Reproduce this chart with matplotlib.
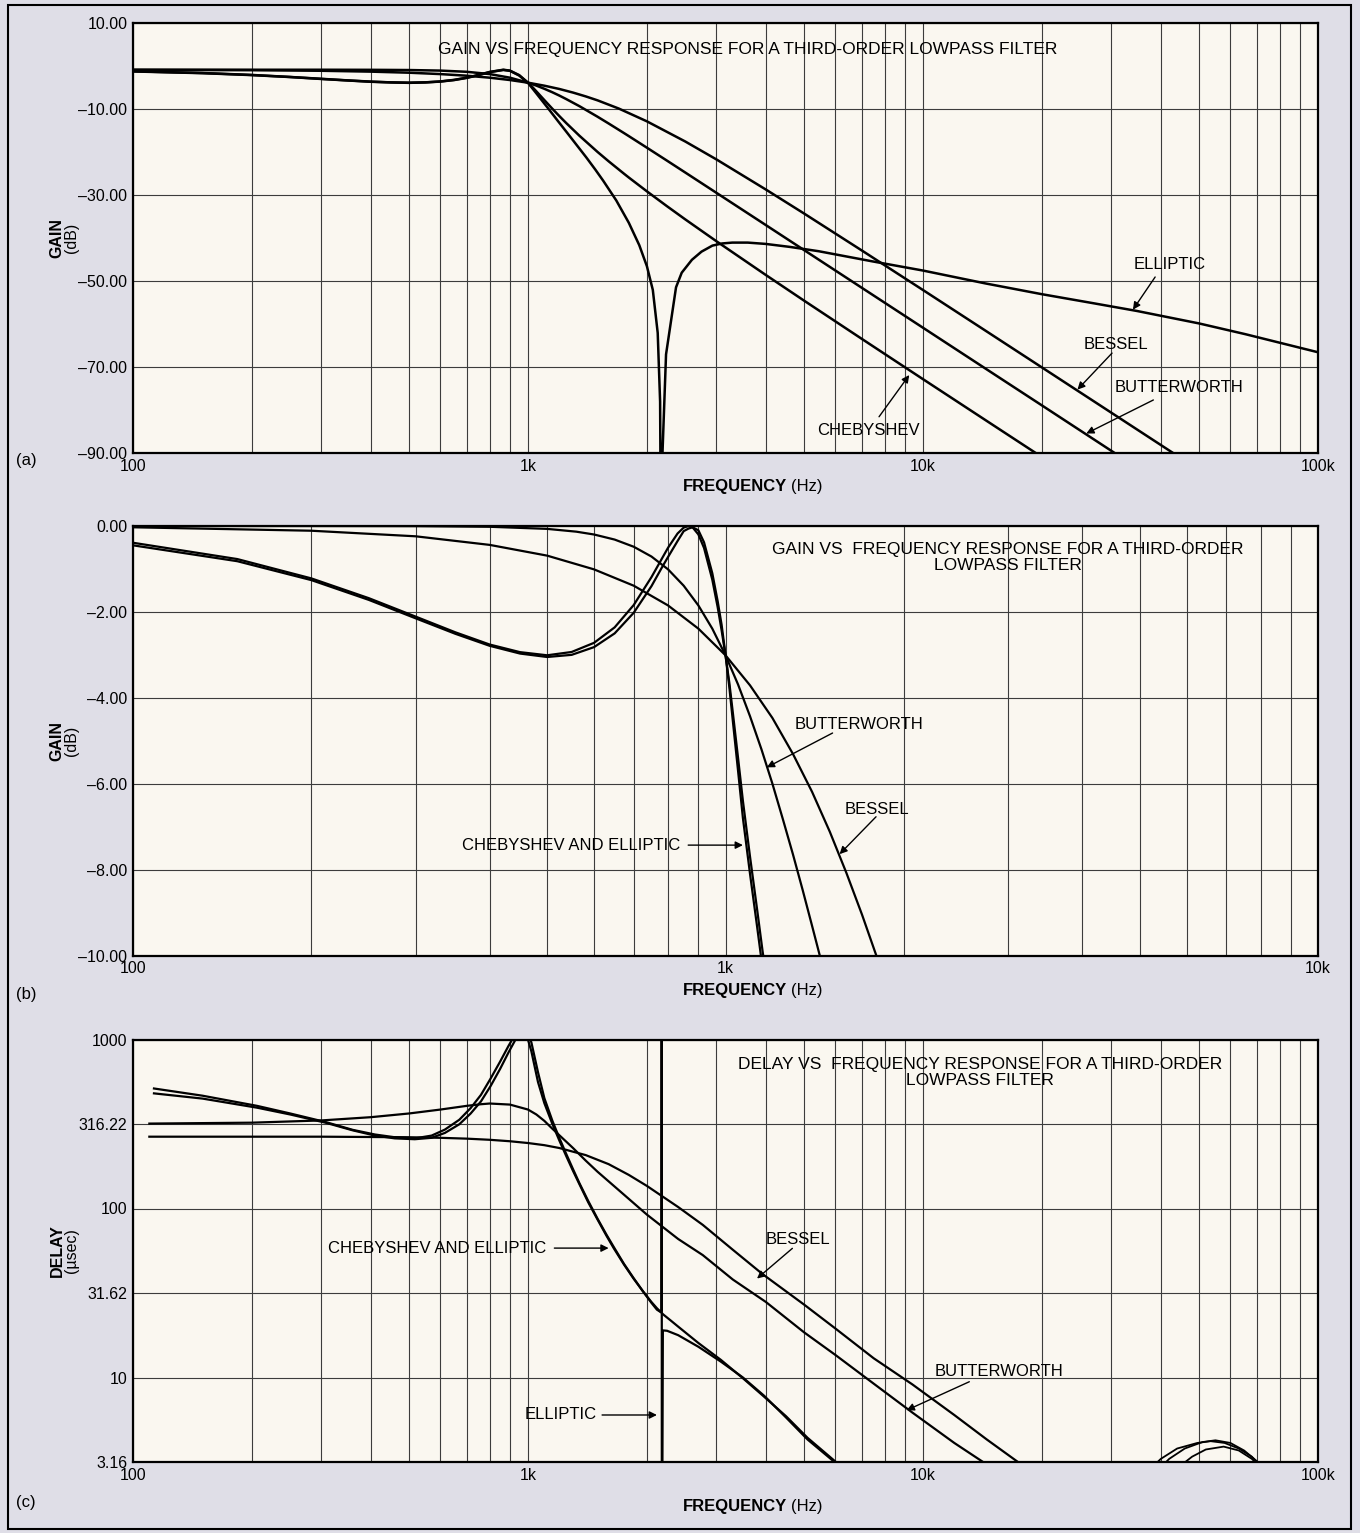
"""Third-order lowpass filter responses: gain (wide/narrow) and group delay."""

import matplotlib

matplotlib.use("Agg")
import matplotlib.pyplot as plt
from matplotlib.patches import Rectangle
from matplotlib.ticker import NullFormatter, NullLocator

W, H = 1360, 1533
PAGE = "#dfdee7"
PAPER = "#faf7f0"
GRID = "#3c3c3c"
INK = "black"

plt.rcParams["font.family"] = ["Liberation Sans", "DejaVu Sans"]

# ---- (a) gain, 100 Hz .. 100 kHz (dB) ----
a_butter_f = [100, 200, 300, 400, 500, 600, 700, 800, 900, 1000, 1050, 1100, 1150, 1200,
              1250, 1350, 1500, 1600, 1750, 1800, 2000, 2250, 2500, 3000, 4000, 5000, 7000,
              10000, 15000, 20000, 31600]
a_butter_db = [-0.8, -0.8, -0.8, -0.82, -0.87, -1.0, -1.28, -1.81, -2.65, -3.81, -4.49,
               -5.23, -6.0, -6.8, -7.63, -9.28, -11.73, -13.3, -15.53, -16.24, -18.93, -21.96,
               -24.69, -29.43, -36.92, -42.74, -51.51, -60.8, -71.37, -78.86, -90.8]
a_bessel_f = [100, 200, 300, 400, 500, 600, 700, 800, 900, 1000, 1100, 1200, 1300, 1400,
              1500, 1700, 2000, 2500, 3000, 4000, 5000, 7000, 10000, 14000, 20000, 30000,
              43000]
a_bessel_db = [-0.83, -0.91, -1.04, -1.24, -1.49, -1.81, -2.19, -2.65, -3.19, -3.81, -4.51,
               -5.27, -6.11, -7.0, -7.92, -9.85, -12.8, -17.48, -21.66, -28.65, -34.24,
               -42.83, -52.03, -60.76, -70.03, -80.58, -89.95]
a_cheby_f = [100, 150, 200, 250, 300, 350, 400, 450, 500, 550, 600, 650, 700, 750, 800, 866,
             900, 950, 1000, 1025, 1050, 1100, 1150, 1200, 1250, 1350, 1500, 1600, 1750, 1800,
             2000, 2250, 2500, 3000, 4000, 5000, 7000, 10000, 15000, 20000]
a_cheby_db = [-1.16, -1.56, -2.01, -2.48, -2.91, -3.28, -3.56, -3.74, -3.81, -3.73, -3.52,
              -3.16, -2.64, -1.99, -1.31, -0.8, -1.0, -2.05, -3.81, -4.8, -5.83, -7.86, -9.78,
              -11.56, -13.21, -16.16, -19.92, -22.09, -24.98, -25.87, -29.08, -32.56, -35.59,
              -40.69, -48.53, -54.5, -63.39, -72.76, -83.36, -90.87]
a_ellip_f = [100, 150, 200, 250, 300, 350, 400, 450, 500, 550, 600, 650, 700, 750, 800, 866,
             900, 950, 1000, 1050, 1090, 1136, 1190, 1250, 1320, 1405, 1480, 1550, 1673, 1800,
             1913, 2000, 2070, 2130, 2160, 2175, 2190, 2236, 2370, 2450, 2600, 2750, 2930,
             3100, 3290, 3600, 3990, 4600, 5440, 7480, 10000, 14400, 20000, 27000, 34800,
             50000, 65500, 100000]
a_ellip_db = [-1.2, -1.6, -2.05, -2.5, -2.95, -3.3, -3.6, -3.75, -3.85, -3.75, -3.55, -3.2,
              -2.7, -2.05, -1.35, -0.85, -1.05, -2.15, -3.85, -6.3, -8.2, -10.3, -12.7,
              -15.2, -18.0, -21.2, -24.0, -26.6, -31.2, -36.4, -41.6, -46.5, -52, -62, -78,
              -130, -90, -67, -51.4, -48, -45, -43.1, -41.7, -41.2, -41, -41.0, -41.3, -42.0,
              -43.0, -45.4, -47.5, -50.5, -53.0, -55.1, -56.9, -59.8, -62.3, -66.5]

# ---- (b) gain, passband detail (dB) ----
b_butter_f = [100, 200, 300, 400, 500, 560, 600, 650, 700, 750, 800, 850, 900, 950, 1000,
              1050, 1100, 1150, 1200, 1250, 1300, 1350, 1400, 1450]
b_butter_db = [0, 0, -0.003, -0.018, -0.067, -0.132, -0.198, -0.316, -0.483, -0.711, -1.01,
               -1.39, -1.85, -2.39, -3.01, -3.69, -4.43, -5.2, -6.0, -6.83, -7.65, -8.48,
               -9.31, -10.12]
b_bessel_f = [100, 200, 300, 400, 500, 600, 700, 800, 900, 1000, 1100, 1200, 1300, 1400,
              1500, 1600, 1700, 1800, 1850]
b_bessel_db = [-0.03, -0.11, -0.24, -0.44, -0.69, -1.01, -1.39, -1.85, -2.39, -3.01, -3.71,
               -4.47, -5.31, -6.19, -7.12, -8.08, -9.05, -10.03, -10.53]
b_cheby_f = [100, 150, 200, 250, 300, 350, 400, 450, 500, 550, 600, 650, 700, 750, 780, 800,
             830, 850, 866, 880, 900, 920, 950, 970, 985, 1000, 1015, 1030, 1050, 1070, 1100,
             1130, 1155, 1175]
b_cheby_db = [-0.39, -0.77, -1.22, -1.68, -2.11, -2.475, -2.76, -2.937, -3.01, -2.933,
              -2.72, -2.36, -1.84, -1.19, -0.773, -0.505, -0.175, -0.038, 0, -0.032, -0.197,
              -0.512, -1.25, -1.89, -2.43, -3.01, -3.65, -4.4, -5.4, -6.4, -7.7, -8.9, -9.9,
              -10.6]
b_ellip_f = [100, 150, 200, 250, 300, 350, 400, 450, 500, 550, 600, 650, 700, 750, 780, 800,
             830, 850, 866, 880, 900, 920, 950, 970, 985, 1000, 1015, 1030, 1050, 1070, 1100,
             1130, 1150, 1165]
b_ellip_db = [-0.45, -0.82, -1.26, -1.72, -2.15, -2.51, -2.79, -2.97, -3.05, -3.0, -2.82,
              -2.5, -2.02, -1.4, -0.98, -0.72, -0.35, -0.12, -0.06, -0.03, -0.1, -0.38, -1.1,
              -1.75, -2.3, -3.0, -3.75, -4.6, -5.7, -6.8, -8.1, -9.3, -10.1, -10.6]

# ---- (c) group delay (usec) ----
c_butter_f = [110, 200, 300, 400, 500, 600, 700, 760, 800, 900, 1000, 1050, 1100, 1150,
              1220, 1300, 1400, 1500, 1700, 2000, 2400, 2770, 3300, 4000, 5000, 6000, 7500,
              9400, 12000, 14200, 16000]
c_butter_us = [318, 322, 332, 347, 365, 385, 405, 414, 418, 412, 385, 360, 330, 298, 262,
               228, 192, 165, 128, 92, 66, 53, 38, 28, 18.5, 13.6, 9.2, 6.2, 4.1, 3.16, 2.6]
c_bessel_f = [110, 300, 500, 600, 700, 800, 900, 1000, 1100, 1200, 1400, 1600, 1800, 2000,
              2400, 2770, 3300, 3920, 5000, 6000, 7500, 9400, 12000, 14500, 17400, 19000]
c_bessel_us = [266, 266, 264, 262, 259, 255, 250, 244, 237, 228, 207, 183, 158, 136, 102,
               80, 57, 41, 27, 19.5, 13, 9.1, 6, 4.3, 3.16, 2.7]
c_cheby_f = [113, 150, 206, 250, 307, 360, 410, 460, 517, 570, 616, 670, 716, 760, 804, 850,
             893, 930, 960, 990, 1020, 1060, 1100, 1153, 1200, 1250, 1300, 1350, 1420, 1500,
             1580, 1650, 1750, 1850, 1950, 2050, 2120, 2200, 2300, 2400, 2700, 3080, 3500,
             3960, 4500, 5100, 6080, 6600]
c_cheby_us = [513, 465, 405, 365, 325, 292, 274, 264, 260, 270, 293, 335, 393, 470, 587, 740,
              918, 1080, 1150, 1080, 850, 560, 420, 316, 253, 204, 167, 139, 109, 86, 69, 58,
              46.6, 38.5, 32.6, 28.1, 25.7, 23.6, 21.7, 20.0, 16.0, 12.7, 9.9, 7.7, 5.9, 4.4,
              3.1, 2.7]
c_ellip_f = [113, 150, 206, 250, 307, 360, 410, 460, 517, 570, 616, 670, 716, 760, 804, 850,
             893, 930, 960, 990, 1020, 1060, 1100, 1153, 1200, 1250, 1300, 1350, 1420, 1500,
             1580, 1650, 1750, 1850, 1950, 2050, 2120, 2160, 2178, 2180, 2182, 2195, 2250,
             2400, 2700, 3080, 3500, 3960, 4500, 5100, 6080, 6600]
c_ellip_us = [480, 447, 395, 360, 322, 290, 270, 260, 257, 262, 280, 315, 365, 430, 530, 670,
              840, 1000, 1120, 1150, 960, 640, 450, 330, 262, 210, 171, 141, 111, 87, 70, 59,
              47, 38.8, 32.6, 27.8, 25.2, 24.5, 25, 5000, 0.3, 19, 18.9, 17.8, 15.2, 12.4,
              10.0, 7.8, 5.8, 4.3, 3.05, 2.6]
# small high-frequency artefact loops near the bottom edge
c_loop1_f = [36000, 40000, 44000, 49500, 53500, 58000, 63000, 68000, 72400, 75500]
c_loop1_us = [2.6, 3.3, 3.8, 4.1, 4.2, 4.1, 3.8, 3.4, 2.9, 2.5]
c_loop2_f = [38000, 42000, 46000, 51000, 55000, 60000, 65000, 70000, 74000]
c_loop2_us = [2.6, 3.3, 3.8, 4.15, 4.25, 4.1, 3.7, 3.2, 2.7]
c_loop3_f = [44000, 48000, 52000, 57700, 63000, 68000, 72000]
c_loop3_us = [2.9, 3.4, 3.75, 3.9, 3.7, 3.3, 2.9]

x_major_wide = [100, 1000, 10000, 100000]
x_labels_wide = ["100", "1k", "10k", "100k"]
x_major_narrow = [100, 1000, 10000]
x_labels_narrow = ["100", "1k", "10k"]
a_yticks = [10, -10, -30, -50, -70, -90]
b_yticks = [0, -2, -4, -6, -8, -10]
c_yticks = [10 ** 0.5, 10, 10 ** 1.5, 100, 10 ** 2.5, 1000]
c_ylabels = ["3.16", "10", "31.62", "100", "316.22", "1000"]


def dash(v):
    s = f"{v:.2f}"
    return s.replace("-", "\u2013")


fig = plt.figure(figsize=(W / 100, H / 100), dpi=100)
fig.patch.set_facecolor(PAGE)


def px_axes(left, top, right, bottom):
    return fig.add_axes([left / W, 1 - bottom / H, (right - left) / W, (bottom - top) / H])


def style_axes(ax, xmax, majors, labels):
    ax.set_facecolor(PAPER)
    ax.set_xscale("log")
    ax.set_xlim(100, xmax)
    ax.set_xticks(majors)
    ax.set_xticklabels(labels)
    decades = [100, 1000, 10000]
    minors = [m * d for d in decades for m in range(2, 10) if m * d < xmax]
    ax.set_xticks(minors, minor=True)
    ax.xaxis.set_minor_formatter(NullFormatter())
    ax.grid(True, which="both", axis="x", color=GRID, lw=0.8)
    ax.grid(True, which="major", axis="y", color=GRID, lw=0.8)
    ax.set_axisbelow(True)
    ax.tick_params(which="both", length=0, labelsize=11.5, pad=4)
    for sp in ax.spines.values():
        sp.set_linewidth(1.6)
        sp.set_color(INK)


def arrow(ax, start, tip):
    ax.annotate("", xy=tip, xytext=start,
                arrowprops=dict(arrowstyle="-|>", lw=1.0, color=INK, mutation_scale=11,
                                shrinkA=0, shrinkB=0))


def side_labels(top, bottom, bold, normal, xlab_y, letter, letter_y):
    cy = 1 - (top + bottom) / 2 / H
    fig.text(57 / W, cy, bold, rotation=90, ha="center", va="center",
             fontsize=11.5, fontweight="bold")
    fig.text(71 / W, cy, normal, rotation=90, ha="center", va="center", fontsize=11.5)
    fig.text(787 / W, 1 - xlab_y / H, "FREQUENCY", ha="right", va="center",
             fontsize=12, fontweight="bold")
    fig.text(791 / W, 1 - xlab_y / H, "(Hz)", ha="left", va="center", fontsize=12)
    fig.text(16 / W, 1 - letter_y / H, letter, ha="left", va="center", fontsize=12)


# ---------------- panel (a) ----------------
ax_a = px_axes(133, 23.3, 1318, 453.3)
style_axes(ax_a, 100000, x_major_wide, x_labels_wide)
ax_a.set_ylim(-90, 10)
ax_a.set_yticks(a_yticks)
ax_a.set_yticklabels([dash(v) for v in a_yticks])
lw_a = 1.8
ax_a.plot(a_butter_f, a_butter_db, color=INK, lw=lw_a)
ax_a.plot(a_bessel_f, a_bessel_db, color=INK, lw=lw_a)
ax_a.plot(a_cheby_f, a_cheby_db, color=INK, lw=lw_a)
ax_a.plot(a_ellip_f, a_ellip_db, color=INK, lw=lw_a)
ax_a.text(0.519, 0.938, "GAIN VS FREQUENCY RESPONSE FOR A THIRD-ORDER LOWPASS FILTER",
          transform=ax_a.transAxes, ha="center", va="center", fontsize=12.5)
ax_a.text(42200, -46.2, "ELLIPTIC", ha="center", va="center", fontsize=12)
arrow(ax_a, (38700, -49.0), (34000, -56.6))
ax_a.text(30800, -64.8, "BESSEL", ha="center", va="center", fontsize=12)
arrow(ax_a, (30100, -66.7), (24600, -75.2))
ax_a.text(44500, -74.6, "BUTTERWORTH", ha="center", va="center", fontsize=12)
arrow(ax_a, (38300, -77.6), (25900, -85.4))
ax_a.text(7260, -84.6, "CHEBYSHEV", ha="center", va="center", fontsize=12)
arrow(ax_a, (7740, -81.5), (9230, -71.8))
side_labels(23.3, 453.3, "GAIN", "(dB)", 487, "(a)", 461)

# ---------------- panel (b) ----------------
ax_b = px_axes(133, 526, 1318, 955.5)
style_axes(ax_b, 10000, x_major_narrow, x_labels_narrow)
ax_b.set_ylim(-10, 0)
ax_b.set_yticks(b_yticks)
ax_b.set_yticklabels([dash(v) for v in b_yticks])
lw_b = 1.6
ax_b.plot(b_butter_f, b_butter_db, color=INK, lw=lw_b)
ax_b.plot(b_bessel_f, b_bessel_db, color=INK, lw=lw_b)
ax_b.plot(b_cheby_f, b_cheby_db, color=INK, lw=lw_b)
ax_b.plot(b_ellip_f, b_ellip_db, color=INK, lw=lw_b)
ax_b.text(0.738, 0.927, "GAIN VS  FREQUENCY RESPONSE FOR A THIRD-ORDER\nLOWPASS FILTER",
          transform=ax_b.transAxes, ha="center", va="center", fontsize=12.5,
          linespacing=1.1, multialignment="center")
ax_b.text(1678, -4.63, "BUTTERWORTH", ha="center", va="center", fontsize=12)
arrow(ax_b, (1516, -4.82), (1174, -5.62))
ax_b.text(1804, -6.59, "BESSEL", ha="center", va="center", fontsize=12)
arrow(ax_b, (1795, -6.77), (1558, -7.64))
ax_b.text(838, -7.43, "CHEBYSHEV AND ELLIPTIC", ha="right", va="center", fontsize=12)
arrow(ax_b, (865, -7.43), (1070, -7.43))
side_labels(526, 955.5, "GAIN", "(dB)", 990, "(b)", 995)

# ---------------- panel (c) ----------------
ax_c = px_axes(133, 1039.5, 1318, 1462)
style_axes(ax_c, 100000, x_major_wide, x_labels_wide)
ax_c.set_yscale("log")
ax_c.set_ylim(10 ** 0.5, 1000)
ax_c.set_yticks(c_yticks)
ax_c.set_yticklabels(c_ylabels)
ax_c.yaxis.set_minor_locator(NullLocator())
lw_c = 1.6
ax_c.plot(c_butter_f, c_butter_us, color=INK, lw=lw_c)
ax_c.plot(c_bessel_f, c_bessel_us, color=INK, lw=lw_c)
ax_c.plot(c_cheby_f, c_cheby_us, color=INK, lw=lw_c)
ax_c.plot(c_ellip_f, c_ellip_us, color=INK, lw=lw_c)
for lf, lt in ((c_loop1_f, c_loop1_us), (c_loop2_f, c_loop2_us), (c_loop3_f, c_loop3_us)):
    ax_c.plot(lf, lt, color=INK, lw=1.3)
ax_c.text(0.715, 0.921, "DELAY VS  FREQUENCY RESPONSE FOR A THIRD-ORDER\nLOWPASS FILTER",
          transform=ax_c.transAxes, ha="center", va="center", fontsize=12.5,
          linespacing=1.1, multialignment="center")
ax_c.text(4830, 65.3, "BESSEL", ha="center", va="center", fontsize=12)
arrow(ax_c, (4670, 58.1), (3800, 38.5))
ax_c.text(15600, 10.8, "BUTTERWORTH", ha="center", va="center", fontsize=12)
arrow(ax_c, (13100, 9.44), (9090, 6.4))
ax_c.text(1113, 58.3, "CHEBYSHEV AND ELLIPTIC", ha="right", va="center", fontsize=12)
arrow(ax_c, (1166, 58.3), (1600, 58.3))
ax_c.text(1489, 6.0, "ELLIPTIC", ha="right", va="center", fontsize=12)
arrow(ax_c, (1540, 6.0), (2120, 6.0))
side_labels(1039.5, 1462, "DELAY", "(\u00b5sec)", 1507, "(c)", 1502)

fig.add_artist(Rectangle((8 / W, 1 - 1529 / H), (1351 - 8) / W, (1529 - 5) / H,
                         transform=fig.transFigure, fill=False, lw=1.5, ec=INK))

fig.savefig("out.png", dpi=100, facecolor=PAGE)
